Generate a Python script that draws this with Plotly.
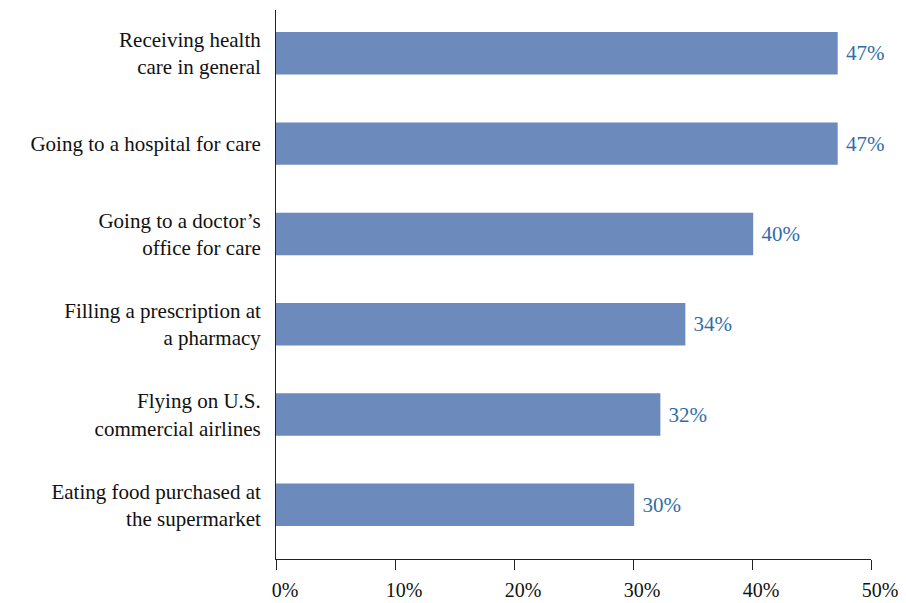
import plotly.graph_objects as go

categories = [
    "Eating food purchased at<br>the supermarket",
    "Flying on U.S.<br>commercial airlines",
    "Filling a prescription at<br>a pharmacy",
    "Going to a doctor\u2019s<br>office for care",
    "Going to a hospital for care",
    "Receiving health<br>care in general",
]
values = [30.1, 32.3, 34.4, 40.1, 47.2, 47.2]
x_ticks = [0, 10, 20, 30, 40, 50]

positions = list(range(len(categories)))

fig = go.Figure(
    go.Bar(
        x=values,
        y=positions,
        orientation="h",
        width=0.47,
        marker=dict(color="#6d8abd", line=dict(width=0)),
        text=[f"\u00a0{round(v)}%" for v in values],
        textposition="outside",
        textfont=dict(family="Liberation Serif, serif", size=21, color="#2f6ea8"),
        cliponaxis=False,
    )
)

fig.update_layout(
    width=906,
    height=603,
    margin=dict(l=268, r=43, t=2, b=52),
    plot_bgcolor="white",
    paper_bgcolor="white",
    showlegend=False,
    font=dict(family="Liberation Serif, serif", size=21, color="#111111"),
    xaxis=dict(
        range=[0, 50],
        tickvals=x_ticks,
        ticktext=[f"{t}%" for t in x_ticks],
        ticks="outside",
        ticklen=10,
        tickcolor="#222222",
        ticklabelshift=9,
        ticklabelstandoff=3,
        showline=True,
        linecolor="#222222",
        linewidth=1,
        showgrid=False,
        zeroline=False,
        tickfont=dict(size=20),
    ),
    yaxis=dict(
        range=[-0.6, 5.48],
        tickvals=positions,
        ticktext=categories,
        ticks="",
        ticklabelstandoff=10,
        showline=True,
        linecolor="#222222",
        linewidth=1,
        showgrid=False,
        zeroline=False,
    ),
)

fig.write_html("out.html")
